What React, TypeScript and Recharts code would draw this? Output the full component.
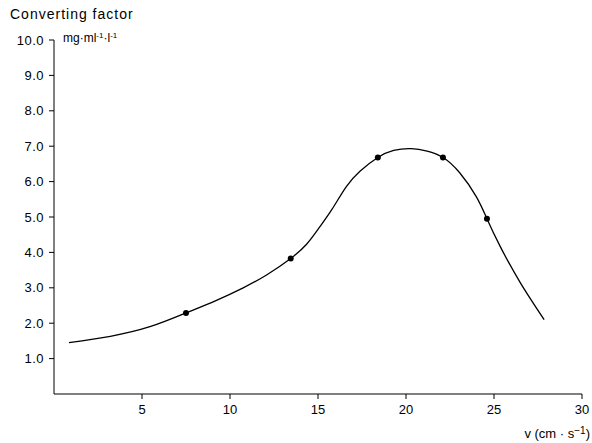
import React from "react";
import { ComposedChart, Line, Scatter, XAxis, YAxis } from "recharts";

const curveX = [0.85, 3.2, 5.45, 7.5, 9.2, 10.75, 12.1, 13.45, 14.35, 15.1, 15.8, 16.6, 17.4, 18.4, 19.3, 20.3, 21.2, 22.1, 23.05, 24.0, 24.6, 25.35, 26.5, 27.85];
const curveY = [1.45, 1.63, 1.9, 2.29, 2.64, 3.0, 3.37, 3.83, 4.23, 4.72, 5.22, 5.85, 6.3, 6.68, 6.88, 6.93, 6.86, 6.68, 6.25, 5.57, 4.95, 4.17, 3.14, 2.1];
const pointX = [7.5, 13.45, 18.4, 22.1, 24.6];
const pointY = [2.29, 3.83, 6.68, 6.68, 4.95];
const xTicks = [5, 10, 15, 20, 25, 30];
const yTicks = [1, 2, 3, 4, 5, 6, 7, 8, 9, 10];

const curveData = curveX.map((x, i) => ({ x, y: curveY[i] }));
const pointData = pointX.map((x, i) => ({ x, y: pointY[i] }));

const FONT = "'Liberation Sans', Arial, Helvetica, sans-serif";

const Dot = (props: any) => <circle cx={props.cx} cy={props.cy} r={3} fill="#000" />;

export default function App() {
  return (
    <div style={{ position: "absolute", left: 0, top: 0, width: 592, height: 443, background: "#fff" }}>
      <ComposedChart width={592} height={443} margin={{ top: 40, right: 10, bottom: 0, left: 0 }}>
        <XAxis
          type="number"
          dataKey="x"
          domain={[0, 30]}
          ticks={xTicks}
          height={49}
          tickSize={5}
          tickMargin={6}
          stroke="#000"
          allowDataOverflow
          tick={{ fill: "#000", fontSize: 13, fontFamily: FONT }}
        />
        <YAxis
          type="number"
          dataKey="y"
          domain={[0, 10]}
          ticks={yTicks}
          width={54}
          tickSize={5}
          tickMargin={5}
          stroke="#000"
          allowDataOverflow
          tickFormatter={(v: number) => v.toFixed(1)}
          tick={{ fill: "#000", fontSize: 13, fontFamily: FONT, letterSpacing: 0.5 }}
        />
        <Line
          data={curveData}
          dataKey="y"
          type="natural"
          stroke="#000"
          strokeWidth={1.3}
          dot={false}
          activeDot={false}
          isAnimationActive={false}
        />
        <Scatter data={pointData} dataKey="y" fill="#000" shape={Dot} isAnimationActive={false} />
      </ComposedChart>
      <svg
        width={592}
        height={443}
        style={{ position: "absolute", left: 0, top: 0, pointerEvents: "none" }}
        fontFamily={FONT}
      >
        <text x={10} y={19} fontSize={14} fill="#000" letterSpacing={1}>Converting factor</text>
        <text x={63} y={42} fontSize={12} fill="#000">
          mg·ml<tspan dy={-4} fontSize={8}>-1</tspan>
          <tspan dy={4}>·l</tspan>
          <tspan dy={-4} fontSize={8}>-1</tspan>
        </text>
        <text x={590} y={438} fontSize={13} fill="#000" textAnchor="end">
          v (cm · s<tspan dy={-4} fontSize={10}>−1</tspan><tspan dy={4}>)</tspan>
        </text>
      </svg>
    </div>
  );
}
